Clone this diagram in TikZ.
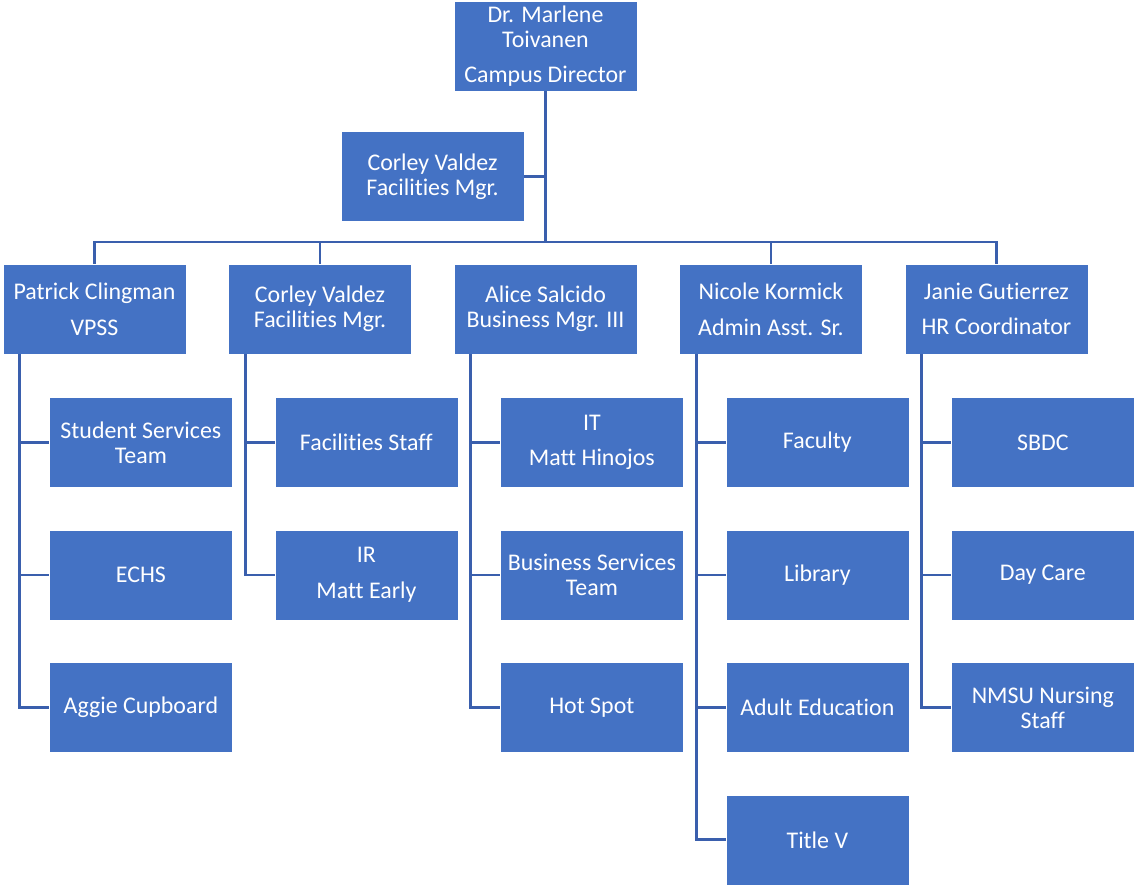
\documentclass[tikz,border=0pt]{standalone}
\usepackage{fontspec}
\setmainfont{Carlito}[Ligatures={CommonOff,ContextualOff}, Contextuals=AlternateOff]
\usetikzlibrary{positioning, calc}
\definecolor{boxblue}{HTML}{4472C4}
\definecolor{lineblue}{HTML}{3A5FAD}

\begin{document}
\begin{tikzpicture}[
    x=0.025cm, y=-0.025cm,
    unit/.style={rectangle, fill=boxblue, draw=white, line width=0.3pt, text=white, minimum width=4.575cm, minimum height=2.25cm, inner sep=0pt, align=center, font=\fontsize{17}{17.8}\selectfont},
    link/.style={draw=lineblue, line width=2pt}
]
    \useasboundingbox (0,0) rectangle (1134,884);

    % Director and assistant
    \node[unit] (dir) at (545.5,46) {Dr. Marlene\\Toivanen\\[7.5pt]Campus Director};
    \node[unit] (asst) at (432.5,176.5) {Corley Valdez\\Facilities Mgr.};
    \coordinate (bar) at (545.5,242);

    % Second level
    \node[unit] (vpss) at (94.5,309) {Patrick Clingman\\[7.5pt]VPSS};
    \node[unit, right=1.05cm of vpss] (fmgr) {Corley Valdez\\Facilities Mgr.};
    \node[unit, right=1.05cm of fmgr] (bmgr) {Alice Salcido\\Business Mgr. III};
    \node[unit, right=1.05cm of bmgr] (admin) {Nicole Kormick\\[7.5pt]Admin Asst. Sr.};
    \node[unit, right=1.05cm of admin] (hr) {Janie Gutierrez\\[7.5pt]HR Coordinator};

    % Patrick's teams
    \node[unit, below=1.075cm of vpss.south, xshift=1.16cm] (sst) {Student Services\\Team};
    \node[unit, below=1.05cm of sst] (echs) {ECHS};
    \node[unit, below=1.05cm of echs] (aggie) {Aggie Cupboard};

    % Corley's teams
    \node[unit, below=1.075cm of fmgr.south, xshift=1.16cm] (fstaff) {Facilities Staff};
    \node[unit, below=1.05cm of fstaff] (ir) {IR\\[7.5pt]Matt Early};

    % Alice's teams
    \node[unit, below=1.075cm of bmgr.south, xshift=1.16cm] (it) {IT\\[7.5pt]Matt Hinojos};
    \node[unit, below=1.05cm of it] (bst) {Business Services\\Team};
    \node[unit, below=1.05cm of bst] (hot) {Hot Spot};

    % Nicole's teams
    \node[unit, below=1.075cm of admin.south, xshift=1.16cm] (faculty) {Faculty};
    \node[unit, below=1.05cm of faculty] (lib) {Library};
    \node[unit, below=1.05cm of lib] (adult) {Adult Education};
    \node[unit, below=1.05cm of adult] (title) {Title V};

    % Janie's teams
    \node[unit, below=1.075cm of hr.south, xshift=1.16cm] (sbdc) {SBDC};
    \node[unit, below=1.05cm of sbdc] (care) {Day Care};
    \node[unit, below=1.05cm of care] (nurse) {NMSU Nursing\\Staff};

    % Top connectors
    \draw[link] (dir.south) -- (bar);
    \draw[link] (asst.east) -- (asst.east -| bar);
    \draw[link] (vpss.north) |- (bar) -| (hr.north);
    \draw[link] (fmgr.north) -- (fmgr.north |- bar);
    \draw[link] (admin.north) -- (admin.north |- bar);

    % Team connectors
    \draw[link] ([xshift=0.425cm]vpss.south west) |- (sst.west);
    \draw[link] ([xshift=0.425cm]vpss.south west) |- (echs.west);
    \draw[link] ([xshift=0.425cm]vpss.south west) |- (aggie.west);
    \draw[link] ([xshift=0.425cm]fmgr.south west) |- (fstaff.west);
    \draw[link] ([xshift=0.425cm]fmgr.south west) |- (ir.west);
    \draw[link] ([xshift=0.425cm]bmgr.south west) |- (it.west);
    \draw[link] ([xshift=0.425cm]bmgr.south west) |- (bst.west);
    \draw[link] ([xshift=0.425cm]bmgr.south west) |- (hot.west);
    \draw[link] ([xshift=0.425cm]admin.south west) |- (faculty.west);
    \draw[link] ([xshift=0.425cm]admin.south west) |- (lib.west);
    \draw[link] ([xshift=0.425cm]admin.south west) |- (adult.west);
    \draw[link] ([xshift=0.425cm]admin.south west) |- (title.west);
    \draw[link] ([xshift=0.425cm]hr.south west) |- (sbdc.west);
    \draw[link] ([xshift=0.425cm]hr.south west) |- (care.west);
    \draw[link] ([xshift=0.425cm]hr.south west) |- (nurse.west);
\end{tikzpicture}
\end{document}
